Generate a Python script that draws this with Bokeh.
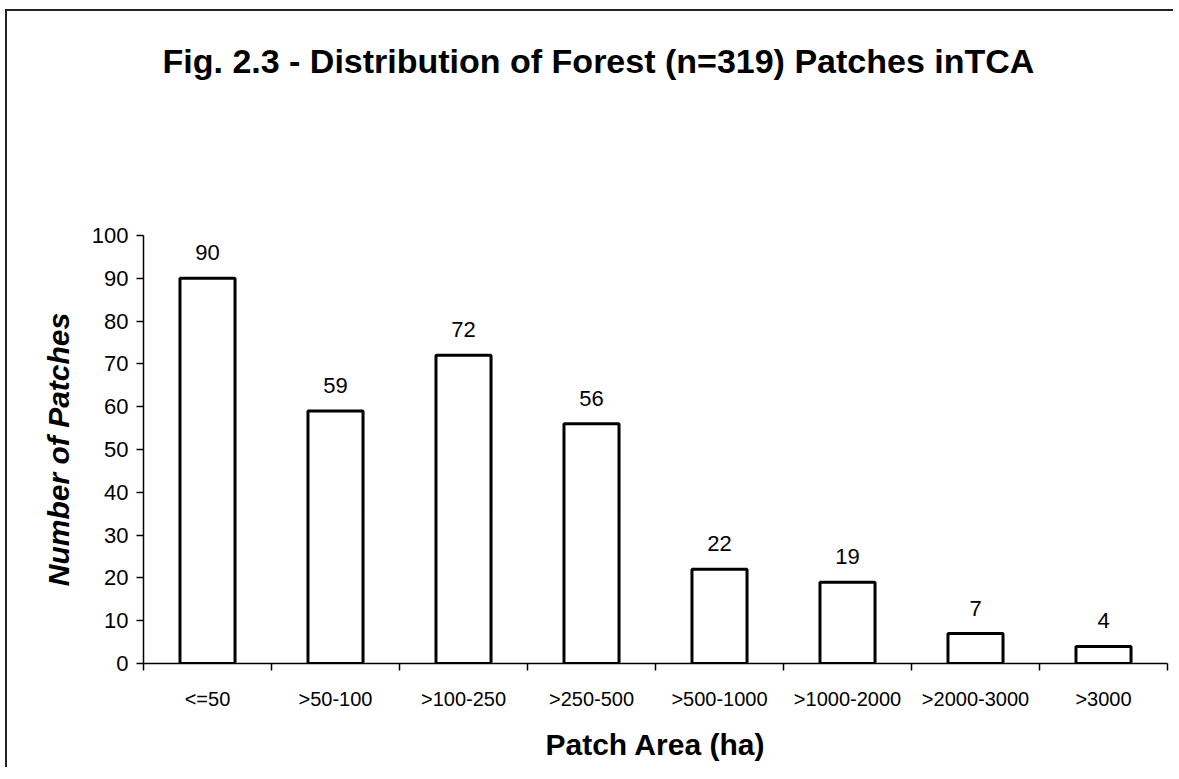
from bokeh.plotting import figure
from bokeh.layouts import column
from bokeh.models import Range1d, FixedTicker, ColumnDataSource
from bokeh.core.properties import value
from bokeh.embed import file_html
from bokeh.resources import INLINE

categories = ["<=50", ">50-100", ">100-250", ">250-500", ">500-1000",
              ">1000-2000", ">2000-3000", ">3000"]
patches = [90, 59, 72, 56, 22, 19, 7, 4]
y_ticks = [0, 10, 20, 30, 40, 50, 60, 70, 80, 90, 100]
title_text = "Fig. 2.3 - Distribution of Forest  (n=319) Patches inTCA"

FONT = "Liberation Sans"
W = 1166
HEAD_H = 100
LEFT = 136
RIGHT = 6
FRAME_W = W - LEFT - RIGHT

# ---- header (title); its frame is aligned with the chart frame ----
h = figure(width=W, height=HEAD_H, output_backend="svg", toolbar_location=None,
           x_range=Range1d(0, FRAME_W), y_range=Range1d(0, HEAD_H),
           x_axis_location=None, y_axis_location=None,
           min_border=0, min_border_left=LEFT, min_border_right=RIGHT,
           min_border_top=0, min_border_bottom=0)
h.grid.visible = False
h.outline_line_color = None
h.background_fill_color = "white"
h.border_fill_color = "white"
h.text(x=[19], y=[51], text=[title_text], text_align="left",
       text_baseline="alphabetic", text_font=value(FONT),
       text_font_style="bold", text_font_size="34px", text_color="black")

# ---- chart ----
centers = [i + 0.5 for i in range(len(categories))]
bounds = list(range(len(categories) + 1))
src = ColumnDataSource(dict(x=centers, top=patches,
                            label=[str(v) for v in patches]))

p = figure(width=W, height=756 - HEAD_H, output_backend="svg",
           toolbar_location=None,
           x_range=Range1d(0, len(categories)), y_range=Range1d(0, 100),
           min_border_left=LEFT, min_border_right=RIGHT,
           min_border_top=224 - HEAD_H, min_border_bottom=104)

p.vbar(x="x", top="top", width=0.43, bottom=0, source=src,
       fill_color="white", line_color="black", line_width=3)
p.text(x="x", y="top", text="label", source=src, text_align="center",
       text_baseline="bottom", y_offset=-18, text_font=value(FONT),
       text_font_size="22px", text_color="black")

p.outline_line_color = None
p.xgrid.visible = False
p.ygrid.visible = False
p.background_fill_color = "white"
p.border_fill_color = "white"

xa = p.xaxis[0]
xa.ticker = FixedTicker(ticks=centers, minor_ticks=bounds)
xa.major_label_overrides = {c: lab for c, lab in zip(centers, categories)}
xa.major_tick_out = 0
xa.major_tick_in = 0
xa.minor_tick_out = 7
xa.minor_tick_in = 0
xa.minor_tick_line_color = "black"
xa.minor_tick_line_width = 1.5
xa.axis_line_width = 1.5
xa.axis_line_color = "black"
xa.major_label_standoff = 17
xa.major_label_text_font = FONT
xa.major_label_text_font_size = "20px"
xa.major_label_text_color = "black"
xa.axis_label = "Patch Area (ha)"
xa.axis_label_text_font = FONT
xa.axis_label_text_font_style = "bold"
xa.axis_label_text_font_size = "30px"
xa.axis_label_text_color = "black"
xa.axis_label_standoff = 15

ya = p.yaxis[0]
ya.ticker = FixedTicker(ticks=y_ticks)
ya.minor_tick_line_color = None
ya.major_tick_out = 7
ya.major_tick_in = 0
ya.major_tick_line_width = 1.5
ya.major_tick_line_color = "black"
ya.axis_line_width = 1.5
ya.axis_line_color = "black"
ya.major_label_standoff = 8
ya.major_label_text_font = FONT
ya.major_label_text_font_size = "22px"
ya.major_label_text_color = "black"
ya.axis_label = "Number of Patches"
ya.axis_label_text_font = FONT
ya.axis_label_text_font_style = "bold italic"
ya.axis_label_text_font_size = "30px"
ya.axis_label_text_color = "black"
ya.axis_label_standoff = 14

page = column(h, p, spacing=0)
page.styles = {"border-left": "2px solid #222", "border-top": "2px solid #222",
               "margin-left": "5px", "margin-top": "9px"}

open("out.html", "w").write(file_html(page, INLINE))
